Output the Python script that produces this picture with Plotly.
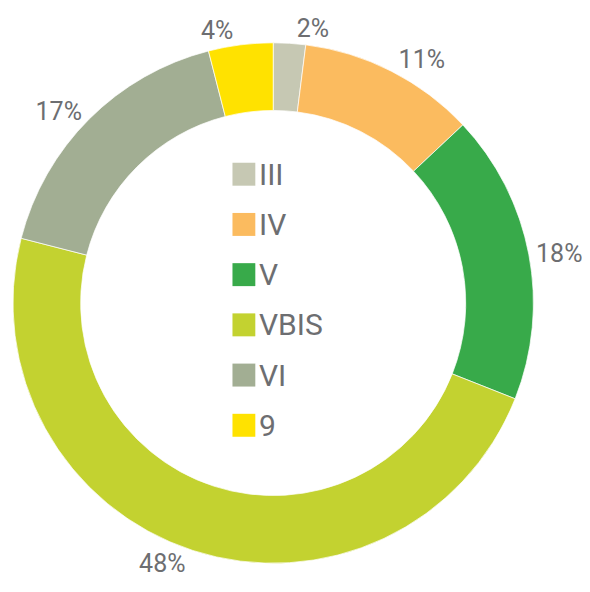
import plotly.graph_objects as go

# page body has an 8px margin, so the figure is 8px smaller than the window
W, H = 582, 584

categories = ['III', 'IV', 'V', 'VBIS', 'VI', '9']
shares = [2, 11, 18, 48, 17, 4]
colors = ['#c6c8b3', '#fbbb5f', '#38aa4a', '#c3d230', '#a2ae93', '#ffe200']

TEXT_COLOR = '#6d6e71'
FONT = 'Roboto'

fig = go.Figure(go.Pie(labels=categories,
                       values=shares,
                       hole=0.74,
                       sort=False,
                       direction='clockwise',
                       rotation=0,
                       marker=dict(colors=colors, line=dict(color='white', width=0.7)),
                       texttemplate='%{value}%',
                       textposition='outside',
                       outsidetextfont=dict(family=FONT, size=25, color=TEXT_COLOR),
                       domain=dict(x=[1 / W, 525 / W], y=[27.5 / H, 551.5 / H]),
                       showlegend=False))

# Legend drawn inside the hole: swatch + label per category
legend_top = 165.5
legend_step = 50.3
for i, (name, col) in enumerate(zip(categories, colors)):
    cy = legend_top + i * legend_step
    fig.add_shape(type='rect', xref='paper', yref='paper',
                  x0=222 / W, x1=245 / W,
                  y0=1 - (cy + 11.5) / H, y1=1 - (cy - 11.5) / H,
                  fillcolor=col, line=dict(width=0))
    fig.add_annotation(x=247 / W, y=1 - cy / H, xref='paper', yref='paper',
                       text=name, showarrow=False,
                       xanchor='left', yanchor='middle',
                       font=dict(family=FONT, size=30, color=TEXT_COLOR))

fig.update_layout(width=W, height=H,
                  margin=dict(l=0, r=0, t=0, b=0),
                  paper_bgcolor='white',
                  plot_bgcolor='white')

fig.write_html("out.html")
